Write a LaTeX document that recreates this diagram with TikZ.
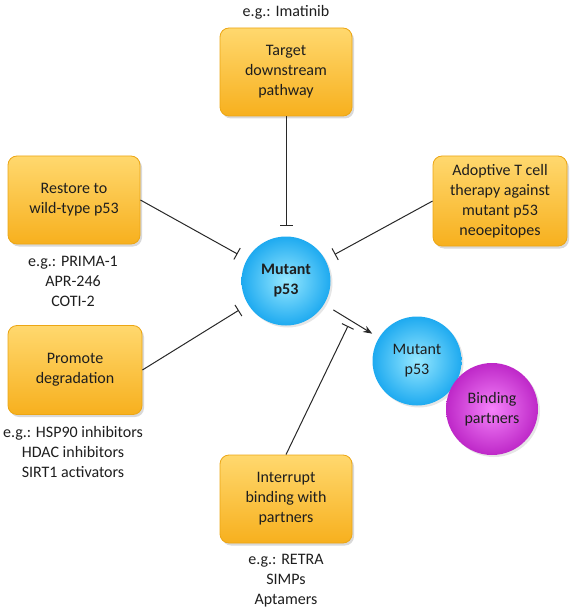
\documentclass[tikz,border=0pt]{standalone}
\usepackage{fontspec}
\setmainfont{Carlito}
\usepackage{tikz}
\usetikzlibrary{arrows.meta,shadows}
\definecolor{boxtop}{RGB}{255,216,110}
\definecolor{boxbot}{RGB}{247,176,30}
\definecolor{boxline}{RGB}{236,166,20}
\definecolor{bluein}{RGB}{150,232,255}
\definecolor{blueout}{RGB}{30,170,240}
\definecolor{pinkin}{RGB}{245,130,250}
\definecolor{pinkout}{RGB}{190,40,200}
\definecolor{inktext}{RGB}{30,30,30}

\begin{document}
\begin{tikzpicture}[x=1pt,y=-1pt]
\tikzstyle{every node}=[font=\fontsize{16}{20}\selectfont, align=center, text=inktext]
\tikzstyle{box}=[draw=boxline, line width=0.8pt, rounded corners=9pt, minimum width=132pt, minimum height=88pt, top color=boxtop, bottom color=boxbot, drop shadow={opacity=0.3, shadow xshift=2pt, shadow yshift=-2.5pt}]
\tikzstyle{bluecell}=[circle, minimum size=89pt, inner sep=0pt, outer sep=0pt, inner color=bluein, outer color=blueout, drop shadow={opacity=0.2, shadow xshift=2pt, shadow yshift=-2pt}]
\tikzstyle{pinkcell}=[circle, minimum size=92pt, inner sep=0pt, outer sep=0pt, inner color=pinkin, outer color=pinkout, drop shadow={opacity=0.2, shadow xshift=2pt, shadow yshift=-2pt}]
\tikzstyle{inhibit}=[draw={rgb,255:red,40;green,40;blue,40}, line width=1pt, -{Bar[width=13pt,line width=1pt]}, shorten >=11pt]
\tikzstyle{activate}=[draw={rgb,255:red,40;green,40;blue,40}, line width=1pt, -{Stealth[length=9pt,width=7pt]}, shorten <=11pt, shorten >=8pt]
\useasboundingbox (0,0) rectangle (576,612);

% strategy boxes
\node[box] (target) at (286,72) {Target\\downstream\\pathway};
\node[box] (restore) at (74,200) {Restore to\\wild-type p53};
\node[box, minimum width=134pt, minimum height=90pt] (adoptive) at (500,201) {Adoptive T cell\\therapy against\\mutant p53\\neoepitopes};
\node[box, minimum width=134pt, minimum height=89pt] (promote) at (75,370) {Promote\\degradation};
\node[box] (interrupt) at (286,499) {Interrupt\\binding with\\partners};

% examples
\node (imatinib) at (286,12) {e.g.: Imatinib};
\node (prima) at (73,281) {e.g.: PRIMA-1\\APR-246\\COTI-2};
\node (hsp) at (73,452) {e.g.: HSP90 inhibitors\\HDAC inhibitors\\SIRT1 activators};
\node (retra) at (286,581) {e.g.: RETRA\\SIMPs\\Aptamers};

% p53
\node[bluecell, font=\fontsize{16}{20}\selectfont\bfseries] (mut) at (286,281) {Mutant\\p53};
\node[bluecell] (mutb) at (417,361) {Mutant\\p53};
\node[pinkcell] (partners) at (492,409) {Binding\\partners};

\coordinate (block) at (348,326);
\draw[inhibit] (target.south) -- (mut);
\draw[inhibit] (restore.east) -- (mut);
\draw[inhibit] (adoptive.west) -- (mut);
\draw[inhibit] (promote.east) -- (mut);
\draw[activate] (mut) -- (mutb);
\draw[inhibit, shorten >=0pt] (interrupt.north) -- (block);
\end{tikzpicture}
\end{document}
